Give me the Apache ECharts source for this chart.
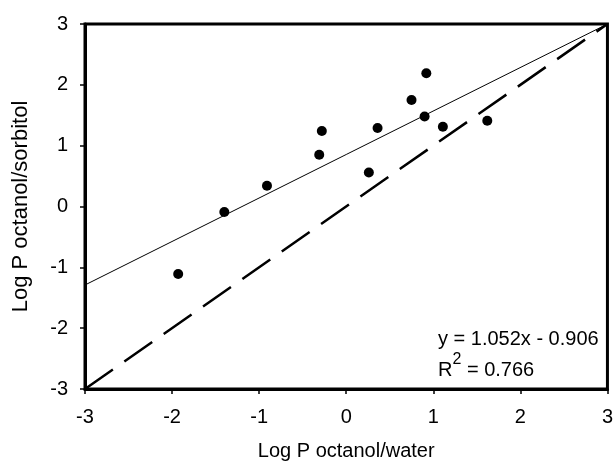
<!DOCTYPE html>
<html>
<head>
<meta charset="utf-8">
<script src="https://cdn.jsdelivr.net/npm/echarts@6/dist/echarts.min.js"></script>
<style>
  html, body { margin: 0; padding: 0; background: #fff; }
  #chart { width: 616px; height: 466px; }
</style>
</head>
<body>
<div id="chart"></div>
<script>
// measured points (log P octanol/water vs log P octanol/sorbitol)
var waterLogP    = [-1.93, -1.40, -0.91, -0.31, -0.28, 0.26, 0.36, 0.75, 0.90, 0.92, 1.11, 1.62];
var sorbitolLogP = [-1.11, -0.09, 0.34, 0.85, 1.24, 0.56, 1.29, 1.75, 1.48, 2.19, 1.31, 1.41];

// trend line as drawn, and the 1:1 line
var fitX = [-3, 3];
var fitY = [-1.29, 3.0];
var identityX = [-3, 3];
var identityY = [-3, 3];

var equationText = 'y = 1.052x - 0.906';
var r2Value = '0.766';

function pairs(xs, ys) {
  var out = [];
  for (var i = 0; i < xs.length; i++) out.push([xs[i], ys[i]]);
  return out;
}

var chart = echarts.init(document.getElementById('chart'));
var font = 'Liberation Sans';

var option = {
  animation: false,
  textStyle: { fontFamily: font, color: '#000' },
  grid: {
    left: 85, right: 7, top: 24, bottom: 75,
    show: true, borderColor: '#000', borderWidth: 3
  },
  xAxis: {
    type: 'value', min: -3, max: 3, interval: 1,
    name: 'Log P octanol/water',
    nameLocation: 'middle', nameGap: 52,
    nameTextStyle: { fontSize: 20, color: '#000', fontFamily: font },
    axisLine: { onZero: false, lineStyle: { color: '#000', width: 3 } },
    axisTick: { inside: false, length: 5, lineStyle: { color: '#000', width: 1.5 } },
    axisLabel: { fontSize: 20, color: '#000', margin: 18, fontFamily: font },
    splitLine: { show: false }
  },
  yAxis: {
    type: 'value', min: -3, max: 3, interval: 1,
    name: 'Log P octanol/sorbitol',
    nameLocation: 'middle', nameGap: 53,
    nameTextStyle: { fontSize: 22, color: '#000', fontFamily: font },
    axisLine: { onZero: false, lineStyle: { color: '#000', width: 3 } },
    axisTick: { inside: false, length: 5, lineStyle: { color: '#000', width: 1.5 } },
    axisLabel: { fontSize: 20, color: '#000', margin: 17, fontFamily: font },
    splitLine: { show: false }
  },
  series: [
    {
      type: 'line',
      data: pairs(identityX, identityY),
      showSymbol: false,
      silent: true,
      lineStyle: { color: '#000', width: 2.5, type: [34, 14] }
    },
    {
      type: 'line',
      data: pairs(fitX, fitY),
      showSymbol: false,
      silent: true,
      lineStyle: { color: '#000', width: 1 }
    },
    {
      type: 'scatter',
      data: pairs(waterLogP, sorbitolLogP),
      symbol: 'circle',
      symbolSize: 10,
      itemStyle: { color: '#000', opacity: 1 }
    }
  ],
  graphic: [
    {
      type: 'text', left: 438, top: 329,
      style: { text: equationText, font: '20px ' + font, fill: '#000' }
    },
    {
      type: 'text', left: 438, top: 352,
      style: {
        text: '{r|R}{s|2}{r| = ' + r2Value + '}',
        fill: '#000',
        rich: {
          r: { fontSize: 20, fontFamily: font, lineHeight: 28, verticalAlign: 'bottom' },
          s: { fontSize: 16, fontFamily: font, lineHeight: 28, verticalAlign: 'top' }
        }
      }
    }
  ]
};

chart.setOption(option);
</script>
</body>
</html>
